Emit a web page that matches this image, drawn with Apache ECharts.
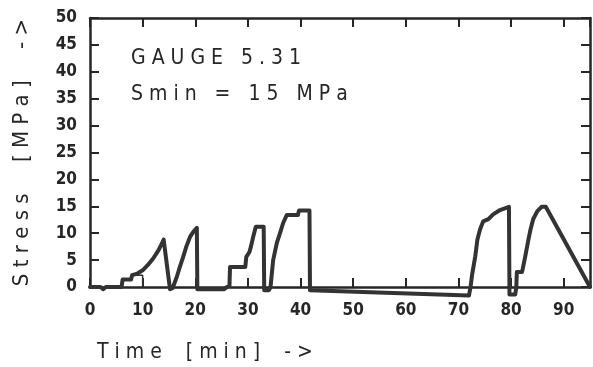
<!DOCTYPE html>
<html>
<head>
<meta charset="utf-8">
<script src="https://cdn.jsdelivr.net/npm/echarts@6/dist/echarts.min.js"></script>
<style>
	html, body { margin: 0; padding: 0; background: #fff; }
	#main { width: 593px; height: 367px; }
</style>
</head>
<body>
<div id="main"></div>
<script>
// stress trace (time in min, stress in MPa)
const traceTime = [0, 2, 2.5, 3, 6, 6.2, 7.8, 8, 9, 10, 11, 12, 13, 13.5, 14,
	15.2, 15.7, 16.5, 17, 17.7, 18.3, 19, 19.6, 20.3, 20.4, 25.5, 26, 26.5,
	26.6, 29.5, 29.7, 30.3, 30.6, 31, 31.5, 33, 33.1, 34, 34.3, 34.8, 35.5,
	36.1, 36.7, 37.4, 39.5, 39.7, 41.7, 41.8, 72, 72.3, 72.6, 73.2, 73.6,
	74.1, 74.7, 75.7, 76.6, 77.9, 79.6, 79.7, 80.8, 81, 81.1, 82.1, 82.7,
	83.3, 83.7, 84.2, 85, 85.8, 86.6, 95]
const traceStress = [0, 0, -0.4, 0, 0, 1.4, 1.4, 2.2, 2.5, 3.1, 4.1, 5.3, 6.8, 7.8, 8.8,
	-0.4, -0.2, 1.9, 3.5, 5.6, 7.5, 9.3, 10.2, 11, -0.4, -0.4, 0, 0.2,
	3.7, 3.7, 5.6, 6.5, 7.6, 9.3, 11.2, 11.2, -0.6, -0.6, 0, 5, 8.2,
	10, 11.9, 13.4, 13.4, 14.2, 14.2, -0.6, -1.6, 0, 2.3, 5.7, 8.8,
	10.7, 12.2, 12.6, 13.5, 14.3, 14.9, -1.4, -1.4, 0, 2.8, 2.8, 5.7,
	8.8, 10.7, 12.6, 14.1, 14.9, 14.9, 0]
// short thin side trace near t = 8..10
const stubTime = [8, 10, 10]
const stubStress = [2.2, 2.2, 0]

const timeTicks = [0, 10, 20, 30, 40, 50, 60, 70, 80, 90]
const stressTicks = [0, 5, 10, 15, 20, 25, 30, 35, 40, 45, 50]

const gaugeText = 'G A U G E   5 . 3 1'
const sminText = 'S m i n   =   1 5   M P a'
const xName = 'T i m e    [ m i n ]    - >'
const yName = 'S t r e s s     [ M P a ]     - >'

const ink = '#262626'
const lineInk = '#333333'
const font = '"Liberation Sans Narrow", "DejaVu Sans Condensed", "Roboto", sans-serif'

let myChart = echarts.init(document.getElementById('main'), null, { renderer: 'canvas' });

const axisCommon = {
	type: 'value',
	splitLine: { show: false },
	axisLine: { show: true, onZero: false, lineStyle: { color: ink, width: 2.5 } },
	axisTick: { show: true, inside: true, length: 9, lineStyle: { color: ink, width: 2 } },
}

let option = {
	backgroundColor: '#fff',
	animation: false,
	title: [{
		text: gaugeText,
		left: 126,
		top: 43,
		textStyle: { fontFamily: font, fontSize: 21, fontWeight: 'normal', color: ink }
	}, {
		text: sminText,
		left: 126,
		top: 79,
		textStyle: { fontFamily: font, fontSize: 21, fontWeight: 'normal', color: ink }
	}, {
		text: xName,
		left: 92,
		top: 337,
		textStyle: { fontFamily: font, fontSize: 21, fontWeight: 'normal', color: ink }
	}],
	grid: {
		left: 90,
		right: 3,
		top: 18,
		bottom: 80
	},
	xAxis: [Object.assign({}, axisCommon, {
		position: 'bottom',
		min: timeTicks[0],
		max: 95,
		interval: 10,
		axisLabel: {
			margin: 15,
			showMaxLabel: false,
			fontFamily: font,
			fontSize: 17,
			fontWeight: 'bold',
			color: ink,
			formatter: v => timeTicks.indexOf(v) >= 0 ? String(v) : ''
		}
	}), Object.assign({}, axisCommon, {
		position: 'top',
		min: timeTicks[0],
		max: 95,
		interval: 10,
		axisLabel: { show: false }
	})],
	yAxis: [Object.assign({}, axisCommon, {
		position: 'left',
		min: stressTicks[0],
		max: stressTicks[stressTicks.length - 1],
		interval: 5,
		name: yName,
		nameLocation: 'middle',
		nameRotate: 90,
		nameGap: 57,
		nameTextStyle: { fontFamily: font, fontSize: 22, color: ink },
		axisLabel: {
			margin: 13,
			fontFamily: font,
			fontSize: 17,
			fontWeight: 'bold',
			color: ink
		}
	}), Object.assign({}, axisCommon, {
		position: 'right',
		min: stressTicks[0],
		max: stressTicks[stressTicks.length - 1],
		interval: 5,
		axisLabel: { show: false }
	})],
	series: [{
		name: 'stress',
		type: 'line',
		xAxisIndex: 0,
		yAxisIndex: 0,
		data: traceTime.map((t, i) => [t, traceStress[i]]),
		showSymbol: false,
		clip: false,
		lineStyle: { color: lineInk, width: 4, join: 'round', cap: 'round' },
		z: 3
	}, {
		name: 'stub',
		type: 'line',
		xAxisIndex: 0,
		yAxisIndex: 0,
		data: stubTime.map((t, i) => [t, stubStress[i]]),
		showSymbol: false,
		clip: false,
		lineStyle: { color: lineInk, width: 1.5 },
		z: 2
	}]
}
myChart.setOption(option);
</script>
</body>
</html>
